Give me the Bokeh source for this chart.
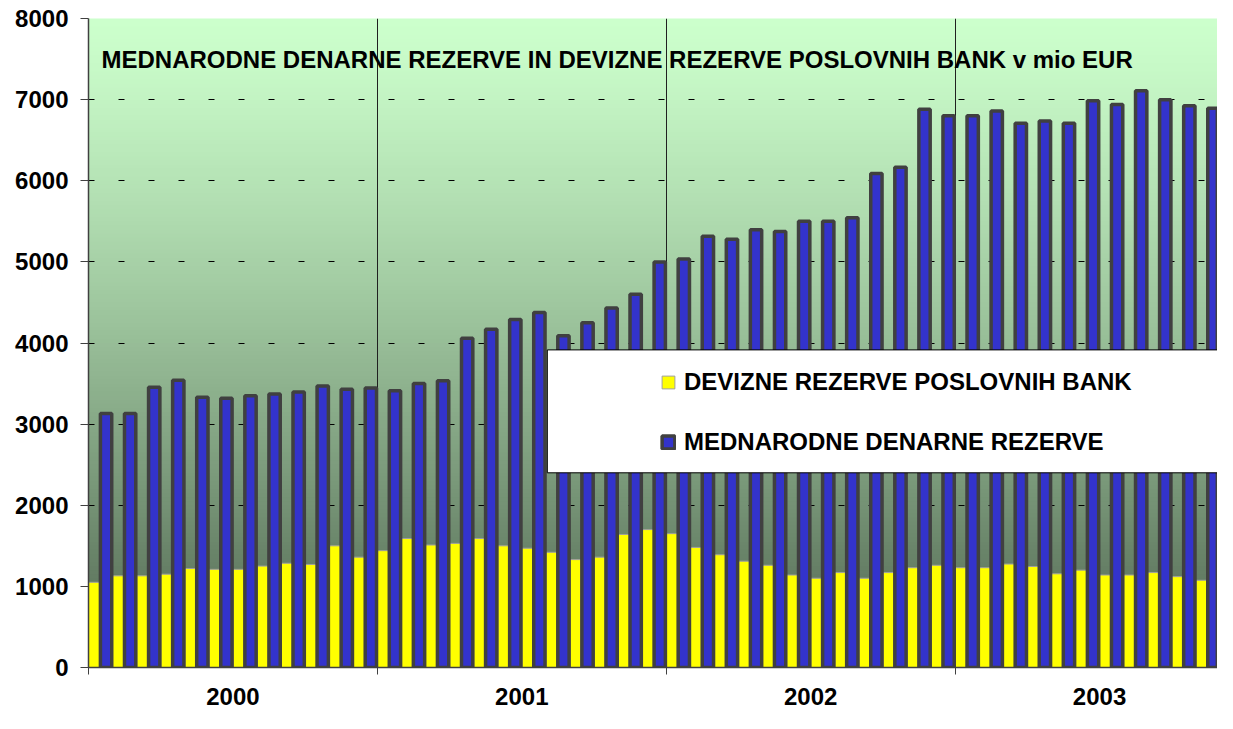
import numpy as np
from bokeh.plotting import figure
from bokeh.models import (Range1d, FixedTicker, ColumnDataSource, BoxAnnotation,
                          Legend, LegendItem, Label)
from bokeh.embed import file_html
from bokeh.resources import INLINE

# ---------------- data ----------------
years = ["2000", "2001", "2002", "2003"]
devizne = [1050, 1130, 1130, 1150, 1220, 1210, 1210, 1250, 1285, 1270, 1500, 1360,
           1440, 1590, 1510, 1530, 1590, 1500, 1470, 1420, 1330, 1360, 1640, 1700,
           1650, 1480, 1390, 1310, 1260, 1140, 1100, 1170, 1100, 1170, 1230, 1260,
           1230, 1230, 1275, 1245, 1155, 1200, 1140, 1140, 1170, 1120, 1075, 1015]
mednarodne = [3130, 3130, 3455, 3540, 3330, 3320, 3350, 3370, 3395, 3470, 3430, 3445,
              3410, 3500, 3535, 4060, 4170, 4290, 4375, 4090, 4250, 4430, 4600, 5000,
              5035, 5315, 5280, 5395, 5375, 5500, 5500, 5545, 6090, 6165, 6880, 6800,
              6800, 6860, 6710, 6735, 6710, 6985, 6940, 7110, 7000, 6925, 6895, 6895]
y_ticks = [0, 1000, 2000, 3000, 4000, 5000, 6000, 7000, 8000]
series_names = ["DEVIZNE REZERVE POSLOVNIH BANK", "MEDNARODNE DENARNE REZERVE"]
title_text = "MEDNARODNE DENARNE REZERVE IN DEVIZNE REZERVE POSLOVNIH BANK v mio EUR"

FONT = "Liberation Sans"
n = len(devizne)
months = np.arange(n)
per_year = 12

p = figure(width=1217, height=713,
           x_range=Range1d(0, 46.9), y_range=Range1d(0, 8000),
           output_backend="svg", toolbar_location=None,
           min_border_left=88, min_border_right=0,
           min_border_top=18, min_border_bottom=46)
p.outline_line_color = None
p.background_fill_color = "white"
p.border_fill_color = "white"

# ---------------- gradient background (decorative) ----------------
nb = 160
edges = np.linspace(0, 8000, nb + 1)
t = 1 - (edges[:-1] + edges[1:]) / 2 / 8000
f = t ** 1.25
c_top = (204, 255, 204)
c_bot = (78, 98, 78)
colors = ['#%02x%02x%02x' % tuple(int(round(a + (b - a) * fi)) for a, b in zip(c_top, c_bot))
          for fi in f]
bg = ColumnDataSource(dict(bottom=edges[:-1], top=edges[1:] + 10, color=colors))
p.quad(left=-1, right=60, bottom="bottom", top="top", fill_color="color",
       line_color=None, source=bg, level="image")

# ---------------- grids ----------------
p.ygrid.ticker = FixedTicker(ticks=y_ticks[1:])
p.ygrid.grid_line_color = "black"
p.ygrid.grid_line_width = 1
p.ygrid.grid_line_dash = "6 24"
p.xgrid.ticker = FixedTicker(ticks=[per_year * i for i in range(1, len(years))])
p.xgrid.grid_line_color = "#202020"
p.xgrid.grid_line_width = 1

# ---------------- bars ----------------
src = ColumnDataSource(dict(xy=months + 0.31, xb=months + 0.73,
                            devizne=devizne, mednarodne=mednarodne))
yb = p.vbar(x="xy", width=0.62, top="devizne", bottom=0, source=src,
            fill_color="#FFFF00", line_color="#a0a0a0", line_width=1)
bb = p.vbar(x="xb", width=0.47, top="mednarodne", bottom=0, source=src,
            fill_color="#3333CC", line_color="#404040", line_width=3.5)

# ---------------- axes ----------------
xa = p.xaxis[0]
xa.ticker = FixedTicker(ticks=[per_year * i + 6 for i in range(len(years))],
                        minor_ticks=[per_year * i for i in range(len(years) + 1)])
xa.major_label_overrides = {per_year * i + 6: y for i, y in enumerate(years)}
xa.major_tick_line_color = None
xa.major_tick_out = 0
xa.major_tick_in = 0
xa.minor_tick_out = 7
xa.minor_tick_in = 0
xa.minor_tick_line_color = "#404040"
xa.minor_tick_line_width = 1
xa.axis_line_color = "#404040"
xa.axis_line_width = 1.5
xa.major_label_text_font = FONT
xa.major_label_text_font_size = "24px"
xa.major_label_text_font_style = "bold"
xa.major_label_text_color = "black"
xa.major_label_standoff = 13

ya = p.yaxis[0]
ya.ticker = FixedTicker(ticks=y_ticks)
ya.major_tick_out = 8
ya.major_tick_in = 0
ya.major_tick_line_color = "#404040"
ya.major_tick_line_width = 1
ya.minor_tick_line_color = None
ya.axis_line_color = "#404040"
ya.axis_line_width = 1.5
ya.major_label_standoff = 12
ya.major_label_text_font = FONT
ya.major_label_text_font_size = "24px"
ya.major_label_text_font_style = "bold"
ya.major_label_text_color = "black"

# ---------------- title inside plot ----------------
p.add_layout(Label(x=0.54, y=7500, text=title_text, text_font=FONT,
                   text_font_size="24px", text_font_style="bold",
                   text_baseline="alphabetic", text_color="black"))

# ---------------- legend ----------------
p.add_layout(BoxAnnotation(left=19.06, right=60, bottom=2400, top=3915,
                           fill_color="white", fill_alpha=1.0,
                           line_color="black", line_width=1, line_alpha=1.0))
legend = Legend(items=[LegendItem(label=series_names[0], renderers=[yb]),
                       LegendItem(label=series_names[1], renderers=[bb])],
                location=(572, 211), orientation="vertical", padding=0, margin=0,
                spacing=32, glyph_width=16, glyph_height=16, label_height=24,
                label_standoff=8, background_fill_alpha=0, border_line_color=None,
                label_text_font=FONT, label_text_font_size="24px",
                label_text_font_style="bold", label_text_color="black")
p.add_layout(legend, "center")

open("out.html", "w").write(file_html(p, INLINE))
